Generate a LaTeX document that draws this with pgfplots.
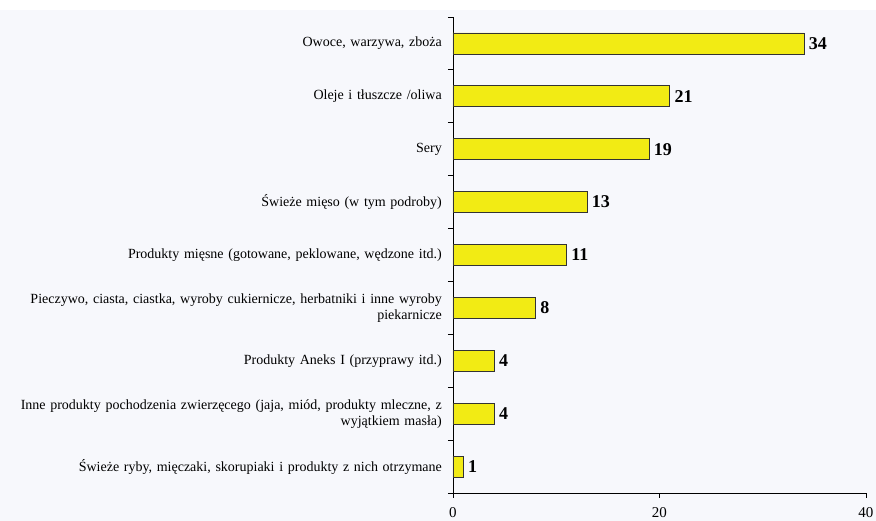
\documentclass[border=0pt]{standalone}
\usepackage{pgfplots}
\pgfplotsset{compat=1.18}
\usepackage{fontspec}
\setmainfont{Liberation Serif}
\definecolor{baryellow}{RGB}{242,235,20}
\definecolor{bgcol}{RGB}{247,248,252}
\begin{document}
\begin{tikzpicture}
\fill[white] (-453pt,-28pt) rectangle (423pt,493pt);
\fill[bgcol] (-453pt,-28pt) rectangle (423pt,483pt);
\path[use as bounding box] (-453pt,-28pt) rectangle (423pt,493pt);
\begin{axis}[
  at={(0pt,0pt)}, anchor=south west,
  scale only axis,
  width=413pt, height=476pt,
  xbar, bar width=21pt,
  xmin=0, xmax=40,
  ymin=-0.5, ymax=8.5,
  xtick={0,20,40},
  ytick={0,...,8},
  yticklabels={
    {Świeże ryby, mięczaki, skorupiaki i produkty z nich otrzymane},
    {Inne produkty pochodzenia zwierzęcego (jaja, miód, produkty mleczne, z\\wyjątkiem masła)},
    {Produkty Aneks I (przyprawy itd.)},
    {Pieczywo, ciasta, ciastka, wyroby cukiernicze, herbatniki i inne wyroby\\piekarnicze},
    {Produkty mięsne (gotowane, peklowane, wędzone itd.)},
    {Świeże mięso (w tym podroby)},
    {Sery},
    {Oleje i tłuszcze /oliwa},
    {Owoce, warzywa, zboża}},
  y tick label style={font=\fontsize{14}{16}\selectfont, align=right, text width=440pt, inner xsep=0pt, xshift=-6pt},
  x tick label style={font=\fontsize{15}{16}\selectfont, yshift=-6pt},
  /pgf/number format/assume math mode=true,
  axis x line*=bottom, axis y line*=left,
  axis line style={black, line width=0.9pt},
  major y tick style={draw=none},
  minor ytick={-0.5,0.5,1.5,2.5,3.5,4.5,5.5,6.5,7.5,8.5},
  minor y tick style={black, line width=0.9pt},
  minor tick length=5pt,
  xtick pos=bottom, ytick pos=left, tick align=outside, major tick length=5pt,
  x tick style={black, line width=0.9pt},
  nodes near coords,
  every node near coord/.append style={font=\fontsize{18}{20}\selectfont\bfseries, anchor=west, xshift=1pt},
  clip=false,
]
\addplot[fill=baryellow, draw=black!80, line width=0.8pt] coordinates {
(1,0) (4,1) (4,2) (8,3) (11,4) (13,5) (19,6) (21,7) (34,8)};
\end{axis}
\end{tikzpicture}
\end{document}
